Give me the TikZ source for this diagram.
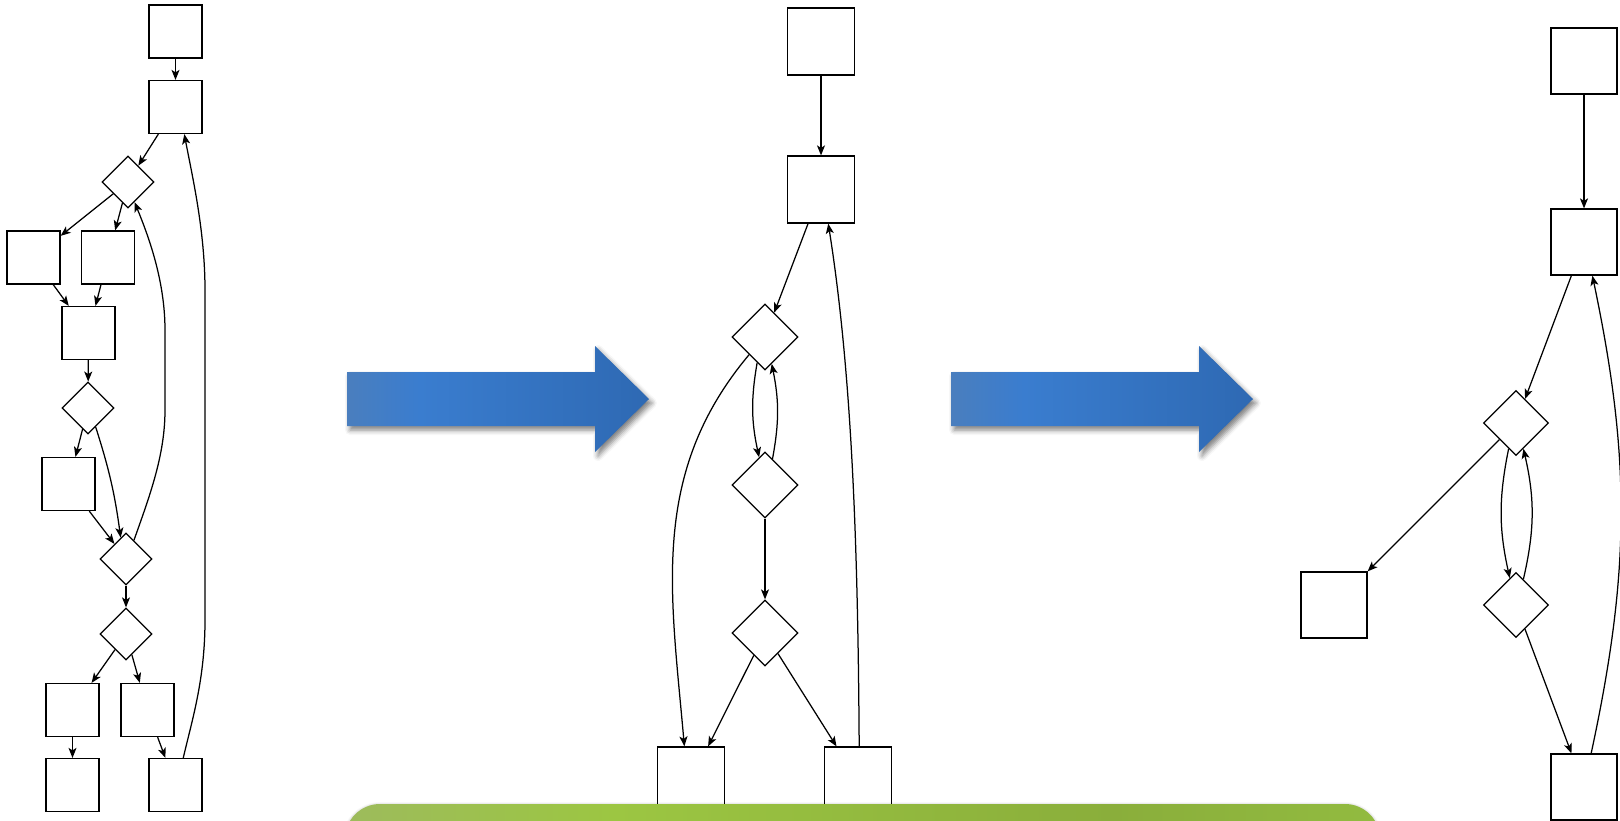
\documentclass[tikz,border=0pt]{standalone}
\usetikzlibrary{arrows.meta, shapes.geometric, shadows.blur}
\definecolor{cblueA}{HTML}{4A7EBE}
\definecolor{cblueB}{HTML}{3A7DCF}
\definecolor{cblueC}{HTML}{2E69B3}
\definecolor{cgreenA}{HTML}{9DBB5C}
\definecolor{cgreenB}{HTML}{9CC642}
\definecolor{cgreenC}{HTML}{8AAE3B}
\definecolor{cgreenD}{HTML}{92BB40}
\pgfdeclarehorizontalshading{arrowshade}{100bp}{color(0bp)=(cblueA); color(25bp)=(cblueA); color(37bp)=(cblueB); color(75bp)=(cblueC); color(100bp)=(cblueC)}
\pgfdeclarehorizontalshading{bandshade}{100bp}{color(0bp)=(cgreenA); color(25bp)=(cgreenA); color(38bp)=(cgreenB); color(62bp)=(cgreenC); color(75bp)=(cgreenD); color(100bp)=(cgreenD)}
\tikzset{
  every picture/.style={line width=1.25pt},
  blk/.style={draw, fill=white, minimum size=#1, inner sep=0pt},
  blk/.default=53pt,
  dia/.style={draw, fill=white, diamond, aspect=1, minimum width=#1, minimum height=#1, inner sep=0pt},
  dia/.default=52pt,
  arrow/.style={-{Stealth[length=10pt, width=8pt, inset=2.5pt]}},
  bigarrow/.style={shading=arrowshade, blur shadow={shadow xshift=3pt, shadow yshift=-4pt, shadow blur radius=5pt, shadow opacity=50}},
  band/.style={shading=bandshade, rounded corners=35pt, blur shadow={shadow xshift=0pt, shadow yshift=-1pt, shadow blur radius=3pt, shadow opacity=35}},
}

\begin{document}
\begin{tikzpicture}[x=1pt, y=1pt]
  \useasboundingbox (0,0) rectangle (1620,-820);
  % left graph
  \foreach \n/\x/\y in {lb1/175.5/-31.5, lb2/175.5/-107, lb3/33.5/-257.5, lb4/108/-257.5, lb5/88.5/-333,
      lb6/68.5/-484, lb7/72.5/-710, lb8/147.5/-710, lb9/72.5/-785, lb10/175.5/-785}
    \node[blk] (\n) at (\x,\y) {};
  \foreach \n/\x/\y in {ld1/128/-182, ld2/88/-408, ld3/126/-559, ld4/126/-634}
    \node[dia] (\n) at (\x,\y) {};
  \foreach \s/\t in {lb1/lb2, lb2/ld1, ld1/lb3, ld1/lb4, lb3/lb5, lb4/lb5, lb5/ld2, ld2/lb6,
      lb6/ld3, ld3/ld4, ld4/lb7, ld4/lb8, lb7/lb9, lb8/lb10}
    \draw[arrow] (\s) -- (\t);
  \draw[arrow] (ld2.-68) to[bend left=5] (ld3.104);
  \draw[arrow] (ld3.67) .. controls (150,-495) and (165,-455) .. (165,-410) -- (165,-330)
    .. controls (165,-280) and (148,-235) .. (ld1.-72);
  \draw[arrow] (lb10.74) .. controls (192,-720) and (205,-680) .. (205,-620) -- (205,-290)
    .. controls (205,-230) and (192,-175) .. (lb2.-72);
  % middle graph
  \foreach \n/\x/\y in {mb1/821/-41.5, mb2/821/-189.5, mb3/691/-780.5, mb4/858/-780.5}
    \node[blk=67pt] (\n) at (\x,\y) {};
  \foreach \n/\y in {md1/-337, md2/-485, md3/-633}
    \node[dia=66pt] (\n) at (765,\y) {};
  \foreach \s/\t in {mb1/mb2, mb2/md1, md2/md3, md3/mb3, md3/mb4}
    \draw[arrow] (\s) -- (\t);
  \draw[arrow] (md1.-107) to[bend right=11] (md2.102);
  \draw[arrow] (md2.74) to[bend right=11] (md1.-76);
  \draw[arrow] (md1.-132) to[out=-130, in=95] (mb3.101);
  \draw[arrow] (mb4.88) .. controls (858,-560) and (853,-380) .. (mb2.-78);
  % right graph
  \foreach \n/\x/\y in {rb1/1584/-61, rb2/1584/-242, rb3/1334/-605, rb4/1584/-787}
    \node[blk=66pt] (\n) at (\x,\y) {};
  \foreach \n/\y in {rd1/-423, rd2/-605}
    \node[dia=65pt] (\n) at (1516,\y) {};
  \foreach \s/\t in {rb1/rb2, rb2/rd1, rd1/rb3, rd2/rb4}
    \draw[arrow] (\s) -- (\t);
  \draw[arrow] (rd1.-106) to[bend right=12] (rd2.103);
  \draw[arrow] (rd2.74) to[bend right=13] (rd1.-74);
  \draw[arrow] (rb4.78) to[bend right=12] (rb2.-76);
  % big arrows
  \foreach \dx in {0,604}
    \shade[bigarrow, xshift=\dx] (347,-372) -- (595,-372) -- (595,-346) -- (649,-399)
      -- (595,-452) -- (595,-426) -- (347,-426) -- cycle;
  % band
  \shade[band] (345,-804) rectangle (1380,-880);
\end{tikzpicture}
\end{document}
